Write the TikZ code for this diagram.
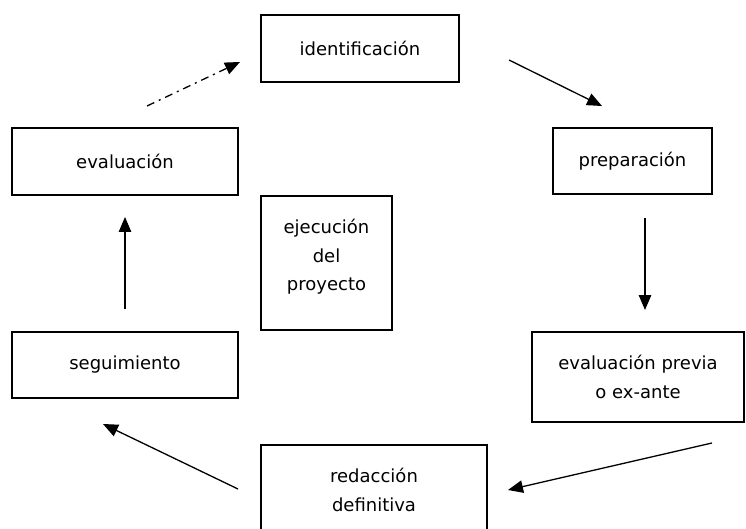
\documentclass[tikz,border=0pt]{standalone}
\usepackage{fontspec}
\setmainfont{DejaVu Sans}
\usetikzlibrary{arrows.meta}
\begin{document}
\begin{tikzpicture}[x=1pt,y=-1pt,
  boxfont/.style={font=\fontsize{18}{28.5}\selectfont},
  box/.style={draw,line width=1.5pt,rectangle,inner sep=0pt,align=center,boxfont},
  lbl/.style={align=center,boxfont,inner sep=0pt},
  arr/.style={line width=1.3pt,-{Triangle[length=15pt,width=12.5pt]}}]
\useasboundingbox (0,0) rectangle (746,529);
\fill[white] (0,0) rectangle (746,529);
\node[box,minimum width=198pt,minimum height=67pt] (iden) at (360,48.5) {identificación};
\node[box,minimum width=226pt,minimum height=67pt] (eval) at (125,161.5) {evaluación};
\node[box,minimum width=159pt,minimum height=66pt] (prep) at (632.5,161) {preparación};
\node[box,minimum width=131pt,minimum height=134pt] (ejec) at (326.5,263) {};
\node[lbl] (eject) at (326.5,257) {ejecución\\del\\proyecto};
\node[box,minimum width=212pt,minimum height=90pt] (prev) at (638,377) {evaluación previa\\o ex-ante};
\node[box,minimum width=226pt,minimum height=66pt] (segu) at (125,365) {seguimiento};
\node[box,minimum width=226pt,minimum height=110pt] (reda) at (374,500) {};
\node[lbl] (redat) at (374,490) {redacción\\definitiva};
\coordinate (a1s) at (147,106); \coordinate (a1e) at (240,62);
\coordinate (a2s) at (509,60);  \coordinate (a2e) at (602,106);
\coordinate (a3s) at (645,218); \coordinate (a3e) at (645,310);
\coordinate (a4s) at (712,443); \coordinate (a4e) at (508,490);
\coordinate (a5s) at (238,489); \coordinate (a5e) at (103,424);
\coordinate (a6s) at (125,309); \coordinate (a6e) at (125,217);
\draw[arr,dash pattern=on 8pt off 5pt on 2pt off 5pt] (a1s) -- (a1e);
\draw[arr] (a2s) -- (a2e);
\draw[arr] (a3s) -- (a3e);
\draw[arr] (a4s) -- (a4e);
\draw[arr] (a5s) -- (a5e);
\draw[arr] (a6s) -- (a6e);
\end{tikzpicture}
\end{document}
